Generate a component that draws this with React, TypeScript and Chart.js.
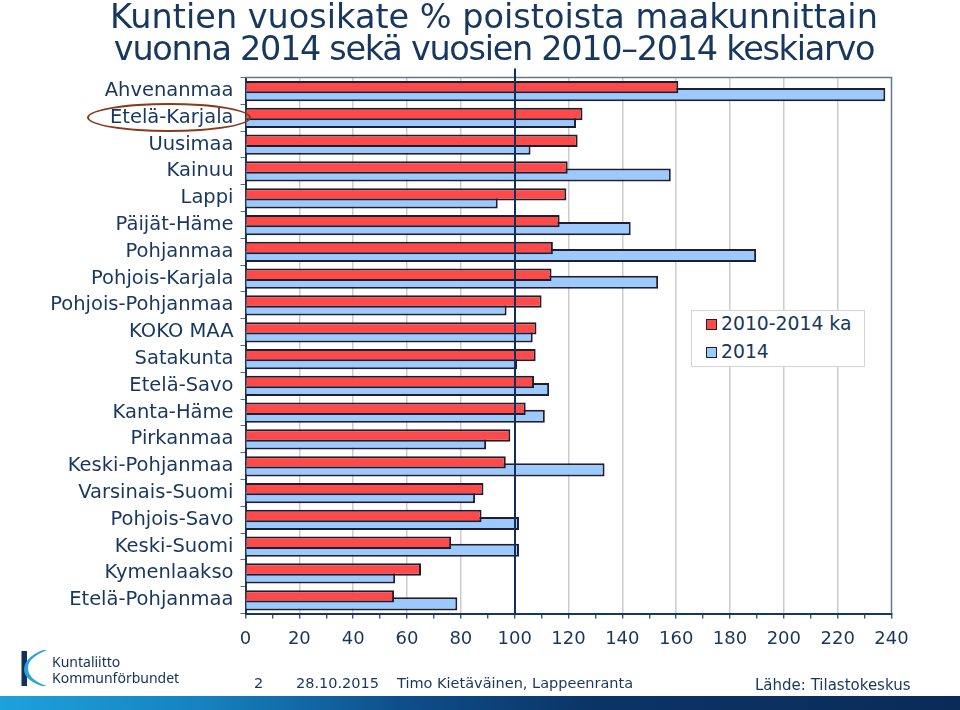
import React, { useEffect, useRef } from 'react';
import { Chart, registerables } from 'chart.js';

Chart.register(...registerables);

const categories = [
  'Ahvenanmaa', 'Etelä-Karjala', 'Uusimaa', 'Kainuu', 'Lappi', 'Päijät-Häme',
  'Pohjanmaa', 'Pohjois-Karjala', 'Pohjois-Pohjanmaa', 'KOKO MAA', 'Satakunta',
  'Etelä-Savo', 'Kanta-Häme', 'Pirkanmaa', 'Keski-Pohjanmaa', 'Varsinais-Suomi',
  'Pohjois-Savo', 'Keski-Suomi', 'Kymenlaakso', 'Etelä-Pohjanmaa',
];

const avg2010to2014 = [
  160.8, 125.2, 123.4, 119.7, 119.2, 116.7, 114.2, 113.7, 110.0, 108.1,
  107.8, 107.2, 104.1, 98.4, 96.7, 88.4, 87.7, 76.4, 65.2, 55.2,
];

const values2014 = [
  237.7, 122.8, 105.9, 158.0, 93.7, 143.1, 189.7, 153.3, 97.0, 106.7,
  100.9, 112.8, 111.2, 89.4, 133.4, 85.3, 101.6, 101.6, 55.6, 78.7,
];

const seriesLabels = ['2010-2014 ka', '2014'];
const xMin = 0;
const xMax = 240;
const xLabelStep = 20;
const xTickStep = 10;
const referenceValue = 100;

const NAVY = '#17375f';
const FONT = '"DejaVu Sans", Verdana, sans-serif';
const RED = '#ff4a4a';
const BLUE = '#9ccaff';
const BAR_BORDER = '#1e1e2e';

const framePlugin = {
  id: 'frameAndRef',
  afterDatasetsDraw(chart: any) {
    const { ctx, chartArea, scales } = chart;
    ctx.save();
    ctx.strokeStyle = '#65778f';
    ctx.lineWidth = 1.5;
    ctx.beginPath();
    ctx.moveTo(chartArea.left, chartArea.top);
    ctx.lineTo(chartArea.right, chartArea.top);
    ctx.lineTo(chartArea.right, chartArea.bottom);
    ctx.stroke();
    const x = Math.round(scales.x.getPixelForValue(referenceValue));
    ctx.strokeStyle = '#10305c';
    ctx.lineWidth = 2;
    ctx.beginPath();
    ctx.moveTo(x, chartArea.top - 9);
    ctx.lineTo(x, chartArea.bottom);
    ctx.stroke();
    ctx.restore();
  },
};

function ChartCanvas() {
  const ref = useRef<HTMLCanvasElement | null>(null);
  useEffect(() => {
    if (!ref.current) return;
    const chart = new Chart(ref.current, {
      type: 'bar',
      data: {
        labels: categories,
        datasets: [
          {
            label: seriesLabels[0],
            data: avg2010to2014,
            backgroundColor: RED,
            borderColor: BAR_BORDER,
            borderWidth: 2,
            categoryPercentage: 0.56,
            barPercentage: 1.65,
          },
          {
            label: seriesLabels[1],
            data: values2014,
            backgroundColor: BLUE,
            borderColor: BAR_BORDER,
            borderWidth: 2,
            categoryPercentage: 0.56,
            barPercentage: 1.75,
          },
        ],
      },
      options: {
        indexAxis: 'y',
        responsive: false,
        animation: false,
        devicePixelRatio: 1,
        layout: { padding: { left: 0, top: 77.5, right: 68.5, bottom: 56.5 } },
        plugins: { legend: { display: false }, tooltip: { enabled: false }, title: { display: false } },
        scales: {
          x: {
            type: 'linear',
            min: xMin,
            max: xMax,
            position: 'bottom',
            afterFit: (s: any) => { s.height = 40; },
            ticks: {
              stepSize: xTickStep,
              autoSkip: false,
              maxRotation: 0,
              padding: 10,
              color: NAVY,
              font: { family: FONT, size: 18 },
              callback: (v: any) => (Number(v) % xLabelStep === 0 ? String(v) : ''),
            },
            grid: {
              color: (c: any) => {
                const v = c.tick ? c.tick.value : 0;
                return v % xLabelStep === 0 && v !== xMin && v !== xMax ? '#cccccc' : 'rgba(0,0,0,0)';
              },
              lineWidth: 1.5,
              tickColor: NAVY,
              tickLength: 5,
              tickWidth: 1.2,
            },
            border: { display: true, color: NAVY, width: 2 },
          },
          y: {
            type: 'category',
            offset: true,
            afterFit: (s: any) => { s.width = 245.5; },
            ticks: {
              autoSkip: false,
              padding: 7,
              color: NAVY,
              font: { family: FONT, size: 19.5 },
            },
            grid: {
              drawOnChartArea: false,
              offset: true,
              tickLength: 5,
              color: '#5a6a80',
              tickWidth: 1,
            },
            border: { display: true, color: NAVY, width: 2 },
          },
        },
      },
      plugins: [framePlugin],
    } as any);
    return () => chart.destroy();
  }, []);
  return (
    <canvas
      ref={ref}
      width={960}
      height={710}
      style={{ position: 'absolute', left: 0, top: 0, width: 960, height: 710 }}
    />
  );
}

export default function App() {
  const textStyle: React.CSSProperties = { position: 'absolute', color: NAVY, fontFamily: FONT, whiteSpace: 'nowrap' };
  return (
    <div style={{ position: 'absolute', left: 0, top: 0, width: 960, height: 710, background: '#ffffff', overflow: 'hidden' }}>
      <ChartCanvas />
      <div style={{ ...textStyle, left: 0, top: 1, width: 988, textAlign: 'center', fontSize: 33.5, lineHeight: '32px' }}>
        <div>Kuntien vuosikate % poistoista maakunnittain</div>
        <div style={{ letterSpacing: '-1.3px' }}>vuonna 2014 sekä vuosien 2010–2014 keskiarvo</div>
      </div>
      <div style={{ position: 'absolute', left: 87, top: 103, width: 164, height: 29, border: '2px solid #8a3a1c', borderRadius: '50%', boxSizing: 'border-box' }} />
      <div style={{ position: 'absolute', left: 691, top: 310, width: 174, height: 57, border: '1.5px solid #d4d4d4', background: '#fff', boxSizing: 'border-box' }}>
        <div style={{ position: 'absolute', left: 14, top: 8, width: 11, height: 11, background: RED, border: '1.5px solid ' + BAR_BORDER, boxSizing: 'border-box' }} />
        <div style={{ ...textStyle, left: 29, top: 2, fontSize: 18.8, lineHeight: '22px' }}>{seriesLabels[0]}</div>
        <div style={{ position: 'absolute', left: 14, top: 36, width: 11, height: 11, background: BLUE, border: '1.5px solid ' + BAR_BORDER, boxSizing: 'border-box' }} />
        <div style={{ ...textStyle, left: 29, top: 30, fontSize: 18.8, lineHeight: '22px' }}>{seriesLabels[1]}</div>
      </div>
      <div style={{ ...textStyle, left: 254, top: 674, fontSize: 14.5, lineHeight: '18px' }}>2</div>
      <div style={{ ...textStyle, left: 296, top: 674, fontSize: 14.5, lineHeight: '18px' }}>28.10.2015</div>
      <div style={{ ...textStyle, left: 397, top: 674, fontSize: 14.5, lineHeight: '18px' }}>Timo Kietäväinen, Lappeenranta</div>
      <div style={{ ...textStyle, left: 755, top: 676, fontSize: 15, lineHeight: '18px' }}>Lähde: Tilastokeskus</div>
      <svg style={{ position: 'absolute', left: 0, top: 640 }} width={200} height={56}>
        <rect x={21.5} y={11} width={5.5} height={35} fill="#12305e" />
        <path d="M 47 10 Q 27 18 28 29 Q 29 40 47 46 L 42 46 Q 24 40 24 29 Q 25 17 43 10 Z" fill="#2aa3dc" />
        <text x={52} y={27} fontFamily='"Noto Sans", sans-serif' fontSize={14} fill="#12305e">Kuntaliitto</text>
        <text x={52} y={43} fontFamily='"Noto Sans", sans-serif' fontSize={14} fill="#12305e">Kommunförbundet</text>
      </svg>
      <div style={{ position: 'absolute', left: 0, top: 696, width: 960, height: 14, background: 'linear-gradient(to right, #1ea2dc 0%, #1580bd 22%, #0e4e8a 42%, #0b3466 62%, #0a2b58 100%)' }} />
    </div>
  );
}
